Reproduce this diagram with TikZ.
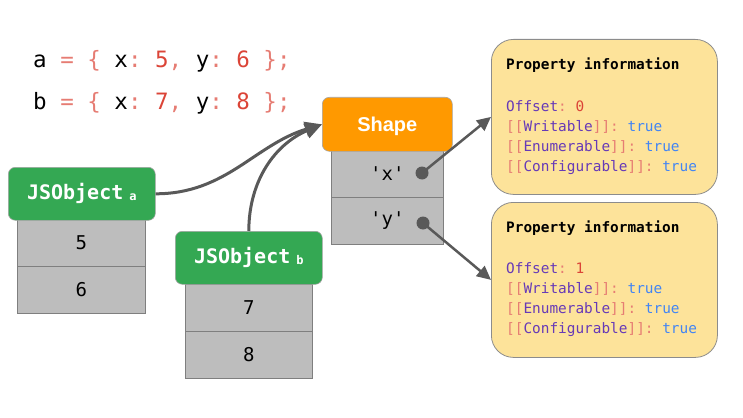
\documentclass[tikz,border=0pt]{standalone}
\usepackage{fontspec}
\setmonofont{DejaVu Sans Mono}
\setsansfont{Liberation Sans}
\usetikzlibrary{arrows.meta,calc}
\definecolor{gGreen}{HTML}{34A853}
\definecolor{gOrange}{HTML}{FF9900}
\definecolor{cellGray}{HTML}{BDBDBD}
\definecolor{cellEdge}{HTML}{7F7F7F}
\definecolor{noteYellow}{HTML}{FDE39A}
\definecolor{noteEdge}{HTML}{8C8C8C}
\definecolor{lineGray}{HTML}{595959}
\definecolor{kwPurple}{HTML}{673AB7}
\definecolor{punctRed}{HTML}{E67C73}
\definecolor{numRed}{HTML}{DB4437}
\definecolor{valBlue}{HTML}{4285F4}
\newcommand{\pu}[1]{\textcolor{punctRed}{#1}}
\newcommand{\nm}[1]{\textcolor{numRed}{#1}}
\newcommand{\kw}[1]{\textcolor{kwPurple}{#1}}
\newcommand{\tv}{\textcolor{valBlue}{true}}
\begin{document}
\begin{tikzpicture}[x=1pt,y=-1pt,
  hdrbox/.style={draw=cellEdge!70,line width=0.6pt,rounded corners=7pt,minimum height=53pt,inner sep=0pt,text=white,anchor=north west},
  cellbox/.style={draw=cellEdge,line width=0.8pt,fill=cellGray,minimum height=47pt,inner sep=0pt,anchor=north west,font=\ttfamily\fontsize{19}{22}\selectfont},
  notebox/.style={draw=noteEdge,line width=0.8pt,fill=noteYellow,rounded corners=22pt,minimum width=226pt,minimum height=155pt,inner sep=0pt,anchor=north west},
  codetxt/.style={anchor=base west,inner sep=0pt,font=\ttfamily\fontsize{22.5}{26}\selectfont},
  notetxt/.style={anchor=base west,inner sep=0pt,font=\ttfamily\fontsize{14.4}{17}\selectfont},
  conn/.style={draw=lineGray,line width=3pt},
  dotnode/.style={circle,fill=lineGray,inner sep=0pt,minimum size=13pt}
]
\useasboundingbox (0,0) rectangle (743,417);

% code
\node[codetxt] (codea) at (33,68) {a \pu{=} \pu{\{} x\pu{:} \nm{5}\pu{,} y\pu{:} \nm{6} \pu{\};}};
\node[codetxt] (codeb) at (33,110) {b \pu{=} \pu{\{} x\pu{:} \nm{7}\pu{,} y\pu{:} \nm{8} \pu{\};}};

% JSObject a
\node[cellbox,minimum width=128pt] (a1) at (17,219) {5};
\node[cellbox,minimum width=128pt] (a2) at (17,266) {6};
\node[hdrbox,fill=gGreen,minimum width=147pt] (ja) at (8,167) {\ttfamily\bfseries\fontsize{20}{24}\selectfont JSObject\hspace{6pt}\raisebox{-1pt}{\fontsize{12}{14}\selectfont a}};

% JSObject b
\node[cellbox,minimum width=127pt] (b1) at (185,284) {7};
\node[cellbox,minimum width=127pt] (b2) at (185,331) {8};
\node[hdrbox,fill=gGreen,minimum width=147pt] (jb) at (175,231) {\ttfamily\bfseries\fontsize{20}{24}\selectfont JSObject\hspace{6pt}\raisebox{-1pt}{\fontsize{12}{14}\selectfont b}};

% Shape
\node[cellbox,minimum width=112pt] (sx) at (331,150) {'x'};
\node[cellbox,minimum width=112pt] (sy) at (331,197) {'y'};
\node[hdrbox,fill=gOrange,minimum width=130pt,minimum height=54pt] (sh) at (322,97) {};
\node[text=white,inner sep=0pt,font=\sffamily\bfseries\fontsize{20}{24}\selectfont] (shl) at ($(sh.center)+(0,2)$) {Shape};
\node[dotnode] (dx) at (422,173) {};
\node[dotnode] (dy) at (423,223) {};

% property boxes
\node[notebox] (pb1) at (491,39) {};
\node[notebox] (pb2) at (491,202) {};
\node[notetxt] (t1) at (506,70) {\bfseries Property information};
\node[notetxt] (o1) at (506,111) {\kw{Offset}\pu{:} \nm{0}};
\node[notetxt] (w1) at (506,131) {\pu{[[}\kw{Writable}\pu{]]:} \tv};
\node[notetxt] (e1) at (506,151) {\pu{[[}\kw{Enumerable}\pu{]]:} \tv};
\node[notetxt] (c1) at (506,171) {\pu{[[}\kw{Configurable}\pu{]]:} \tv};
\node[notetxt] (t2) at (506,232) {\bfseries Property information};
\node[notetxt] (o2) at (506,273) {\kw{Offset}\pu{:} \nm{1}};
\node[notetxt] (w2) at (506,293) {\pu{[[}\kw{Writable}\pu{]]:} \tv};
\node[notetxt] (e2) at (506,313) {\pu{[[}\kw{Enumerable}\pu{]]:} \tv};
\node[notetxt] (c2) at (506,333) {\pu{[[}\kw{Configurable}\pu{]]:} \tv};

% connectors
\draw[conn,-{Triangle[length=17pt,width=15pt]}] (ja.east) to[out=0,in=197] (sh.west);
\draw[conn,-{Triangle[length=17pt,width=15pt]}] (jb.north) to[out=90,in=203] (sh.west);
\draw[draw=lineGray,line width=2.5pt,-{Triangle[length=14pt,width=13pt]}] (dx.center) -- (pb1.west);
\draw[draw=lineGray,line width=2.5pt,-{Triangle[length=14pt,width=13pt]}] (dy.center) -- (pb2.west);
\end{tikzpicture}
\end{document}
